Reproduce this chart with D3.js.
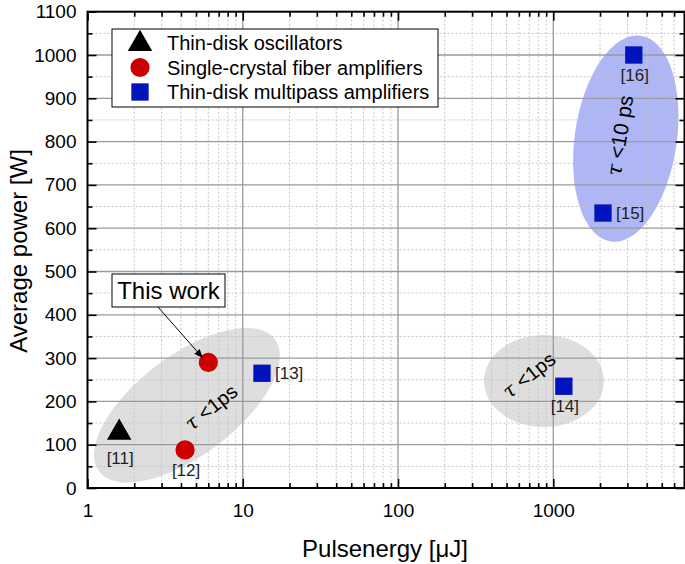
<!DOCTYPE html>
<html>
<head>
<meta charset="utf-8">
<script src="https://cdn.jsdelivr.net/npm/d3@7"></script>
<style>
  html, body { margin: 0; padding: 0; background: #fff; }
  svg { display: block; font-family: "Liberation Sans", Arial, sans-serif; }
</style>
</head>
<body>
<svg id="chart" width="685" height="564"></svg>
<script>
// ---------------- data ----------------
const seriesNames = ["Thin-disk oscillators", "Single-crystal fiber amplifiers", "Thin-disk multipass amplifiers"];
const seriesColors = ["#000000", "#cc0000", "#0014be"];
const seriesShapes = ["triangle", "circle", "square"];

// points: [series index, pulse energy (µJ), average power (W), label]
const oscEnergy = [1.6];
const oscPower = [130];
const oscLabels = ["[11]"];

const fiberEnergy = [4.25, 6.0];
const fiberPower = [88, 290];
const fiberLabels = ["[12]", ""];

const diskEnergy = [13.3, 1170, 2090, 3300];
const diskPower = [265, 235, 635, 1000];
const diskLabels = ["[13]", "[14]", "[15]", "[16]"];

const xTicks = [1, 10, 100, 1000];
const yTicks = [0, 100, 200, 300, 400, 500, 600, 700, 800, 900, 1000, 1100];

// regions: centre in data units
const regionEnergy = [4.37, 870, 2930];
const regionPower = [191, 247, 807];
const regionText = ["<1ps", "<1ps", "<10 ps"];

// ---------------- layout ----------------
const W = 685, H = 564;
const L = 87.5, R = 684.5, T = 11.7, B = 488;
const svg = d3.select("#chart");

const x = d3.scaleLog().domain([1, 7000]).range([L, R]);
const y = d3.scaleLinear().domain([0, 1100]).range([B, T]);

// region ellipse styles (pixels)
const regionStyle = [
  { rx: 110, ry: 50, rot: -37, fill: "#dedede", tdx: 24, tdy: 2, trot: -38, fs: 20 },
  { rx: 60, ry: 46, rot: 0, fill: "#dedede", tdx: -15, tdy: -6, trot: -38, fs: 20 },
  { rx: 104, ry: 51, rot: -81.7, fill: "#aeb6f5", tdx: -6, tdy: -3, trot: -81, fs: 21 }
];

// ellipses (behind grid)
const gReg = svg.append("g");
regionEnergy.forEach((e, i) => {
  const s = regionStyle[i];
  gReg.append("ellipse")
    .attr("cx", 0).attr("cy", 0)
    .attr("rx", s.rx).attr("ry", s.ry)
    .attr("transform", `translate(${x(e)},${y(regionPower[i])}) rotate(${s.rot})`)
    .attr("fill", s.fill);
});

// grid
const gGrid = svg.append("g");
const yMinor = d3.range(50, 1100, 100);
const xMinor = [];
[1, 10, 100, 1000].forEach(d => { for (let m = 2; m <= 9; m++) { if (d * m < 7000) xMinor.push(d * m); } });

gGrid.selectAll(".ymin").data(yMinor).join("line")
  .attr("x1", L).attr("x2", R).attr("y1", d => y(d)).attr("y2", d => y(d))
  .attr("stroke", "#c4c4c4").attr("stroke-width", 1).attr("stroke-dasharray", "2,2");
gGrid.selectAll(".xmin").data(xMinor).join("line")
  .attr("x1", d => x(d)).attr("x2", d => x(d)).attr("y1", T).attr("y2", B)
  .attr("stroke", "#c4c4c4").attr("stroke-width", 1).attr("stroke-dasharray", "2,2");
gGrid.selectAll(".ymaj").data(yTicks.slice(1, -1)).join("line")
  .attr("x1", L).attr("x2", R).attr("y1", d => y(d)).attr("y2", d => y(d))
  .attr("stroke", "#9a9a9a").attr("stroke-width", 1.3);
gGrid.selectAll(".xmaj").data(xTicks.slice(1)).join("line")
  .attr("x1", d => x(d)).attr("x2", d => x(d)).attr("y1", T).attr("y2", B)
  .attr("stroke", "#9a9a9a").attr("stroke-width", 1.3);

// region texts
regionEnergy.forEach((e, i) => {
  const s = regionStyle[i];
  const t = svg.append("text")
    .attr("transform", `translate(${x(e) + s.tdx},${y(regionPower[i]) + s.tdy}) rotate(${s.trot})`)
    .attr("text-anchor", "middle").attr("dy", "0.35em")
    .attr("font-size", s.fs).attr("fill", "#000");
  t.append("tspan").attr("font-style", "italic").attr("font-family", "DejaVu Serif, serif").text("τ");
  t.append("tspan").text(" " + regionText[i]);
});

// axes
function styleAxis(g) {
  g.select(".domain").remove();
  g.selectAll(".tick line").attr("stroke", "#000").attr("stroke-width", 1.6);
  g.selectAll("text").attr("font-size", 19).attr("fill", "#000")
    .attr("font-family", "Liberation Sans, Arial, sans-serif");
}
const fmt = d3.format("d");
svg.append("g").attr("transform", `translate(0,${B})`)
  .call(d3.axisBottom(x).tickValues(xTicks).tickFormat(fmt).tickSizeInner(-9).tickSizeOuter(0).tickPadding(16))
  .call(styleAxis);
svg.append("g").attr("transform", `translate(0,${B})`)
  .call(d3.axisBottom(x).tickValues(xMinor).tickFormat("").tickSizeInner(-5).tickSizeOuter(0))
  .call(styleAxis);
svg.append("g").attr("transform", `translate(0,${T})`)
  .call(d3.axisTop(x).tickValues(xTicks).tickFormat("").tickSizeInner(-9).tickSizeOuter(0))
  .call(styleAxis);
svg.append("g").attr("transform", `translate(0,${T})`)
  .call(d3.axisTop(x).tickValues(xMinor).tickFormat("").tickSizeInner(-5).tickSizeOuter(0))
  .call(styleAxis);
svg.append("g").attr("transform", `translate(${L},0)`)
  .call(d3.axisLeft(y).tickValues(yTicks).tickFormat(fmt).tickSizeInner(-9).tickSizeOuter(0).tickPadding(11))
  .call(styleAxis);
svg.append("g").attr("transform", `translate(${L},0)`)
  .call(d3.axisLeft(y).tickValues(yMinor).tickFormat("").tickSizeInner(-5).tickSizeOuter(0))
  .call(styleAxis);
svg.append("g").attr("transform", `translate(${R},0)`)
  .call(d3.axisRight(y).tickValues(yTicks).tickFormat("").tickSizeInner(-9).tickSizeOuter(0))
  .call(styleAxis);
svg.append("g").attr("transform", `translate(${R},0)`)
  .call(d3.axisRight(y).tickValues(yMinor).tickFormat("").tickSizeInner(-5).tickSizeOuter(0))
  .call(styleAxis);

// frame
svg.append("rect").attr("x", L).attr("y", T).attr("width", R - L).attr("height", B - T)
  .attr("fill", "none").attr("stroke", "#000").attr("stroke-width", 2);

// axis titles
svg.append("text").attr("x", 385).attr("y", 557).attr("text-anchor", "middle")
  .attr("font-size", 24).text("Pulsenergy [μJ]");
svg.append("text").attr("transform", "translate(27,251) rotate(-90)").attr("text-anchor", "middle")
  .attr("font-size", 24).text("Average power [W]");

// markers
const symTri = d3.symbol().type(d3.symbolTriangle).size(260);
const symCir = d3.symbol().type(d3.symbolCircle).size(290);
const symSq = d3.symbol().type(d3.symbolSquare).size(300);
const syms = { triangle: symTri, circle: symCir, square: symSq };

const pts = [];
oscEnergy.forEach((e, i) => pts.push({ s: 0, e, p: oscPower[i], lab: oscLabels[i] }));
fiberEnergy.forEach((e, i) => pts.push({ s: 1, e, p: fiberPower[i], lab: fiberLabels[i] }));
diskEnergy.forEach((e, i) => pts.push({ s: 2, e, p: diskPower[i], lab: diskLabels[i] }));

const labelSide = { "[11]": "below", "[12]": "below", "[13]": "right", "[14]": "below", "[15]": "right", "[16]": "below" };

svg.append("g").selectAll("path").data(pts).join("path")
  .attr("d", d => syms[seriesShapes[d.s]]())
  .attr("transform", d => `translate(${x(d.e)},${y(d.p) + (d.s === 0 ? 1 : 0)})`)
  .attr("fill", d => seriesColors[d.s]);

svg.append("g").selectAll("text").data(pts.filter(d => d.lab)).join("text")
  .attr("x", d => labelSide[d.lab] === "right" ? x(d.e) + 13 : x(d.e) + 1)
  .attr("y", d => labelSide[d.lab] === "right" ? y(d.p) + 6 : y(d.p) + (d.s === 0 ? 32 : 26))
  .attr("text-anchor", d => labelSide[d.lab] === "right" ? "start" : "middle")
  .attr("font-size", 17).attr("fill", "#222").text(d => d.lab);

// "This work" callout
const tw = pts.find(d => d.s === 1 && d.lab === "");
const twx = x(tw.e), twy = y(tw.p);
const boxX = 112, boxY = 274, boxW = 113, boxH = 33;
svg.append("defs").append("marker").attr("id", "arr").attr("viewBox", "0 0 10 10")
  .attr("refX", 9).attr("refY", 5).attr("markerWidth", 9).attr("markerHeight", 9)
  .attr("orient", "auto").attr("markerUnits", "userSpaceOnUse")
  .append("path").attr("d", "M0,1 L10,5 L0,9 Z").attr("fill", "#000");
svg.append("line").attr("x1", 158).attr("y1", boxY + boxH).attr("x2", twx - 6).attr("y2", twy - 5)
  .attr("stroke", "#000").attr("stroke-width", 1).attr("marker-end", "url(#arr)");
svg.append("rect").attr("x", boxX).attr("y", boxY).attr("width", boxW).attr("height", boxH)
  .attr("fill", "#fff").attr("stroke", "#000").attr("stroke-width", 1);
svg.append("text").attr("x", boxX + boxW / 2).attr("y", boxY + 25).attr("text-anchor", "middle")
  .attr("font-size", 24).text("This work");

// legend
const lg = svg.append("g");
lg.append("rect").attr("x", 112).attr("y", 29).attr("width", 326).attr("height", 78)
  .attr("fill", "#fff").attr("stroke", "#000").attr("stroke-width", 1);
seriesNames.forEach((n, i) => {
  const cy = 43 + i * 24.5;
  lg.append("path").attr("d", syms[seriesShapes[i]]())
    .attr("transform", `translate(140,${cy + (i === 0 ? 1 : 0)})`).attr("fill", seriesColors[i]);
  lg.append("text").attr("x", 167).attr("y", cy + 7).attr("font-size", 20).text(n);
});
</script>
</body>
</html>
